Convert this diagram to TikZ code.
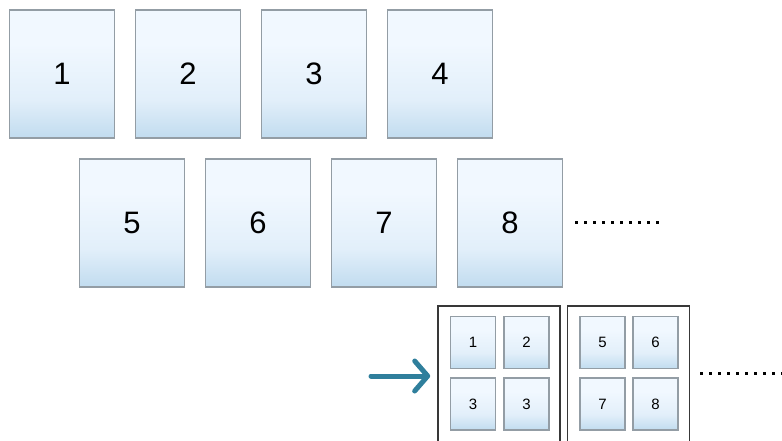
\documentclass[tikz,border=0pt]{standalone}
\usepackage{fontspec}
\setmainfont{Liberation Sans}
\usetikzlibrary{arrows.meta}
\definecolor{pagetop}{HTML}{F1F8FF}
\definecolor{pagemid}{HTML}{E2EFFA}
\definecolor{pagebot}{HTML}{C1DCEF}
\definecolor{pageline}{HTML}{939DA5}
\definecolor{arrowteal}{HTML}{2F7F9C}
\pgfdeclareverticalshading{pageshade}{100bp}{color(0bp)=(pagebot); color(25bp)=(pagebot); color(40bp)=(pagemid); color(62bp)=(pagetop); color(100bp)=(pagetop)}
\begin{document}
\begin{tikzpicture}[x=1pt,y=-1pt]
  \tikzset{bigpage/.style={draw=pageline, line width=1.6pt, shading=pageshade, inner sep=0pt, minimum width=105pt, minimum height=128pt, font=\fontsize{31}{31}\selectfont},
           smallpage/.style={draw=pageline, line width=1.5pt, shading=pageshade, inner sep=0pt, minimum width=45pt, minimum height=52pt, font=\fontsize{15}{15}\selectfont},
           sheet/.style={draw=black!78, line width=1.6pt, inner sep=0pt, minimum width=122pt, minimum height=140pt},
           more/.style={line width=3pt, dash pattern=on 3pt off 6pt}}
  \useasboundingbox (0,0) rectangle (782,440);
  \clip (0,0) rectangle (782,440);
  % first row
  \node[bigpage] at (62,74) (p1) {1};
  \node[bigpage] at (188,74) (p2) {2};
  \node[bigpage] at (314,74) (p3) {3};
  \node[bigpage] at (440,74) (p4) {4};
  % second row
  \node[bigpage] at (132,223) (p5) {5};
  \node[bigpage] at (258,223) (p6) {6};
  \node[bigpage] at (384,223) (p7) {7};
  \node[bigpage] at (510,223) (p8) {8};
  \coordinate (moreA) at (663,222);
  \draw[more] ([xshift=12pt]p8.east |- moreA) -- (moreA);
  % printed sheets
  \node[sheet] at (499,376) (s1) {};
  \node[sheet] at (628.5,376) (s2) {};
  \node[smallpage] at (473,342.5) (q1) {1};
  \node[smallpage] at (526.5,342.5) (q2) {2};
  \node[smallpage] at (473,404) (q3) {3};
  \node[smallpage] at (526.5,404) (q4) {3};
  \node[smallpage] at (602.5,342.5) (q5) {5};
  \node[smallpage] at (655.5,342.5) (q6) {6};
  \node[smallpage] at (602.5,404) (q7) {7};
  \node[smallpage] at (655.5,404) (q8) {8};
  \coordinate (moreB) at (790,373);
  \draw[more] ([xshift=10pt]s2.east |- moreB) -- (moreB);
  \coordinate (in) at (371,376);
  \draw[arrowteal, line width=5pt, line cap=round, -{Straight Barb[length=13pt,width=30pt,line cap=round,line join=round]}, shorten >=7pt] (in) -- (s1.west);
\end{tikzpicture}
\end{document}
